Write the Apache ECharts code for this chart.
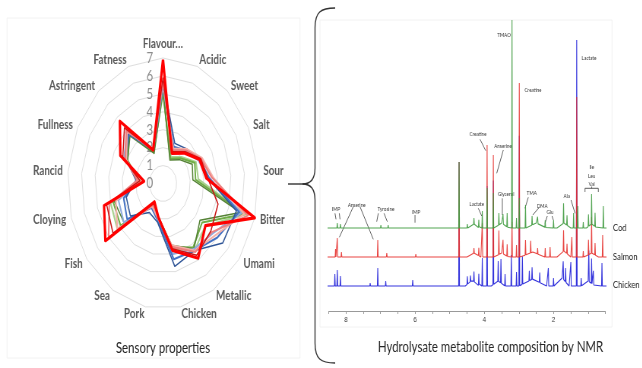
<!DOCTYPE html>
<html>
<head>
<meta charset="utf-8">
<script src="https://cdn.jsdelivr.net/npm/echarts@6/dist/echarts.min.js"></script>
<style>
  body { margin: 0; background: #fff; }
  #wrap { width: 642px; height: 368px; overflow: hidden; position: relative; }
  /* the reference figure is squeezed sideways, so draw wide and squeeze */
  #chart { width: 845px; height: 368px; transform: scaleX(0.76); transform-origin: 0 0; }
</style>
</head>
<body>
<div id="wrap"><div id="chart"></div></div>
<script>
const S = 0.76;

// sensory panel, attributes in clockwise order from the top
const attributes = ['Flavour…', 'Acidic', 'Sweet', 'Salt', 'Sour', 'Bitter', 'Umami', 'Metallic', 'Chicken',
  'Pork', 'Sea', 'Fish', 'Cloying', 'Rancid', 'Fullness', 'Astringent', 'Fatness'];
const scaleMax = 7;

const redBold    = [6.9, 1.8, 2.3, 3.0, 3.2, 7.0, 3.9, 4.9, 3.8, 1.9, 1.2, 5.3, 4.5, 1.4, 3.5, 4.7, 2.0];
const redDark    = [5.9, 1.9, 2.4, 3.1, 3.3, 4.2, 4.4, 4.7, 3.7, 1.9, 1.3, 4.6, 4.3, 1.7, 3.3, 4.2, 2.0];
const pink1      = [5.7, 2.0, 2.5, 3.1, 3.6, 6.5, 4.5, 4.5, 3.6, 1.9, 1.4, 5.0, 4.1, 1.9, 3.1, 4.0, 2.0];
const pink2      = [5.6, 2.1, 2.6, 3.2, 3.7, 6.2, 4.8, 4.4, 3.5, 2.0, 1.5, 4.2, 3.6, 1.8, 3.0, 3.9, 2.1];
const blueDark   = [5.7, 2.4, 2.6, 3.0, 3.3, 5.6, 5.5, 4.4, 4.7, 2.2, 1.9, 3.0, 2.8, 2.0, 3.0, 3.8, 2.0];
const blueMid    = [5.5, 2.2, 2.5, 3.0, 3.4, 5.8, 5.0, 4.4, 4.3, 2.1, 1.6, 3.3, 3.0, 1.9, 3.1, 3.7, 2.0];
const blueLight  = [5.4, 2.1, 2.4, 2.9, 3.3, 6.0, 4.6, 4.3, 4.0, 2.0, 1.5, 3.6, 3.4, 1.8, 3.2, 3.9, 2.0];
const greenDark  = [5.3, 1.4, 1.8, 2.4, 2.2, 5.9, 3.4, 4.3, 3.5, 1.9, 1.4, 3.6, 3.7, 1.9, 2.9, 3.6, 1.8];
const greenMid   = [5.1, 1.5, 1.9, 2.6, 2.4, 6.2, 3.6, 4.2, 3.6, 1.9, 1.3, 3.9, 3.8, 1.8, 2.9, 3.7, 1.9];
const greenLight = [5.0, 1.6, 2.0, 2.7, 2.6, 6.3, 3.9, 4.4, 3.7, 2.0, 1.4, 4.2, 4.0, 1.7, 3.0, 3.8, 1.9];

// NMR peaks: [ppm, height above own baseline, optional half width]
const codPeaks = [[8.25, 5], [8.16, 4], [7.08, 2], [6.99, 3], [6.78, 3], [5.98, 2], [4.73, 66],
  [4.49, 4], [4.30, 6], [4.16, 8], [4.06, 17], [3.92, 40], [3.74, 35], [3.58, 12], [3.46, 10], [3.34, 14],
  [3.20, 208], [3.07, 10], [2.99, 30], [2.81, 23], [2.62, 9], [2.46, 7], [2.24, 7], [2.00, 8], [1.71, 20],
  [1.61, 10], [1.42, 15], [1.30, 22], [1.14, 6], [0.99, 12], [0.90, 30], [0.80, 14], [0.56, 22],
  [4.3, 4, 0.15], [3.5, 5, 0.2], [2.5, 5, 0.3], [1.7, 5, 0.2], [0.9, 4, 0.15]];
const salmonPeaks = [[8.30, 8], [8.25, 19], [8.13, 5], [7.08, 17], [6.82, 4], [6.60, 2], [5.98, 3], [4.73, 95],
  [4.30, 5], [4.16, 8], [4.06, 34], [3.92, 112], [3.74, 102], [3.58, 24], [3.46, 14], [3.34, 12], [3.20, 35],
  [3.07, 12], [2.99, 174], [2.81, 15], [2.66, 12], [2.46, 6], [2.24, 9], [2.10, 10], [1.71, 21], [1.61, 10],
  [1.47, 20], [1.33, 160], [1.14, 6], [0.99, 15], [0.90, 36], [0.80, 12], [0.58, 22],
  [4.3, 4, 0.2], [3.5, 4, 0.2], [2.6, 5, 0.35], [1.7, 6, 0.2], [0.9, 4, 0.2]];
const chickenPeaks = [[8.32, 12], [8.25, 16], [8.16, 10], [7.50, 2], [7.30, 3], [7.08, 18], [6.85, 5], [6.07, 6],
  [4.73, 124], [4.49, 8], [4.40, 6], [4.30, 10], [4.16, 12], [4.06, 28], [3.92, 100], [3.74, 104], [3.60, 20],
  [3.52, 24], [3.40, 12], [3.22, 31], [3.07, 14], [2.99, 150], [2.90, 28], [2.70, 10], [2.62, 12], [2.40, 10],
  [2.15, 18], [2.00, 8], [1.72, 18], [1.65, 14], [1.50, 24], [1.33, 246], [1.20, 8], [0.98, 31], [0.90, 25],
  [0.85, 14], [0.60, 23],
  [4.35, 6, 0.2], [3.6, 5, 0.2], [2.6, 7, 0.4], [1.75, 8, 0.2], [1.0, 5, 0.2]];
const ppmTicks = [8, 6, 4, 2];

// echarts radar runs anticlockwise, the reference runs clockwise
const order = attributes.map((_, i) => (attributes.length - i) % attributes.length);
const reorder = arr => order.map(k => arr[k]);

function spectrum(peaks, offset) {
  const xs = [8.6, 0.42];
  peaks.forEach(p => { const w = p[2] || 0.012; xs.push(p[0] + w, p[0], p[0] - w); });
  xs.sort((a, b) => b - a);
  return xs.map(x => {
    let y = 0;
    peaks.forEach(p => {
      const w = p[2] || 0.012, d = Math.abs(x - p[0]);
      if (d < w) y += p[1] * (1 - d / w);
    });
    return [x, offset + y];
  });
}

const radarLines = [
  ['greenLight', greenLight, '#A9D18E', 2], ['greenMid', greenMid, '#70AD47', 2], ['greenDark', greenDark, '#548235', 1.5],
  ['blueLight', blueLight, '#8FAADC', 2], ['blueMid', blueMid, '#4472C4', 2], ['blueDark', blueDark, '#2F5597', 1.5],
  ['pink2', pink2, '#F4B0A8', 2], ['pink1', pink1, '#EE7F7F', 2], ['redDark', redDark, '#C81414', 1.5],
  ['redBold', redBold, '#FF0000', 3.2]
];

const X = x => x / S;
const txt = (t, x, y, o) => ({
  type: 'text', x: X(x), y: y, silent: true,
  style: Object.assign({ text: t, fill: '#333', font: '6px Lato', align: 'center', verticalAlign: 'middle',
    textAlign: 'center', textVerticalAlign: 'middle' }, o || {})
});
const seg = pts => ({
  type: 'polyline', silent: true, shape: { points: pts.map(p => [X(p[0]), p[1]]) },
  style: { stroke: '#333', lineWidth: 0.8, fill: null }
});
const brace = (shape) => ({ type: 'bezierCurve', silent: true, shape: shape, style: { stroke: '#333', lineWidth: 1.4, fill: null } });
const bline = (x1, y1, x2, y2) => ({ type: 'line', silent: true, shape: { x1, y1, x2, y2 }, style: { stroke: '#333', lineWidth: 1.4 } });
const sampleName = (t, y) => txt(t, 613, y, { font: '10px Lato', fill: '#222', align: 'left', textAlign: 'left' });

const chart = echarts.init(document.getElementById('chart'));
chart.setOption({
  animation: false,
  backgroundColor: '#fff',
  radar: {
    center: [X(163), 183.5],
    radius: 125.5,
    startAngle: 90,
    splitNumber: 7,
    shape: 'polygon',
    indicator: reorder(attributes).map((n, i) => ({ name: n, min: 0, max: scaleMax, axisLabel: { show: i === 0 } })),
    axisName: { color: '#595959', fontFamily: 'Lato', fontSize: 13, fontWeight: 'bold' },
    nameGap: 7,
    splitLine: { lineStyle: { color: '#dedede', width: 1 } },
    splitArea: { show: false },
    axisLine: { show: false },
    axisTick: { show: false },
    axisLabel: { show: false, color: '#8c8c8c', fontFamily: 'Lato', fontSize: 15, margin: 13 }
  },
  grid: { left: 432.4, right: 48.4, top: 15, bottom: 57 },
  xAxis: {
    type: 'value', inverse: true, min: 0.5, max: 8.5, interval: 0.5,
    axisLine: { lineStyle: { color: '#999' } },
    axisTick: { length: 3, lineStyle: { color: '#999' } },
    splitLine: { show: false },
    axisLabel: { fontSize: 8, color: '#333', margin: 5,
      formatter: v => ppmTicks.indexOf(v) >= 0 ? String(v) : '' }
  },
  yAxis: { type: 'value', min: 0, max: 296, show: false },
  series: radarLines.map(r => ({
    type: 'radar', name: r[0], symbol: 'none', silent: true,
    lineStyle: { color: r[2], width: r[3] },
    data: [{ value: reorder(r[1]) }]
  })).concat([
    ['Chicken', chickenPeaks, 25, '#1E1ED8'],
    ['Salmon', salmonPeaks, 54, '#E5302C'],
    ['Cod', codPeaks, 83, '#3E9A3E']
  ].map(s => ({
    type: 'line', name: s[0], showSymbol: false, clip: false, silent: true,
    lineStyle: { color: s[3], width: 1.1, opacity: 0.9 },
    data: spectrum(s[1], s[2])
  }))),
  graphic: [
    { type: 'rect', shape: { x: X(7), y: 18, width: X(300) - X(7), height: 340 }, style: { fill: null, stroke: '#f2f2f2' }, silent: true },
    { type: 'rect', shape: { x: X(320), y: 20, width: X(612) - X(320), height: 307 }, style: { fill: null, stroke: '#f2f2f2' }, silent: true },
    txt('Sensory properties', 163, 348, { font: '15px Lato', fill: '#262626' }),
    txt('Hydrolysate metabolite composition by NMR', 490.5, 346.7, { font: '15px Lato', fill: '#262626' }),
    // curly brace between the panels
    brace({ x1: 441, y1: 8, cpx1: 422, cpy1: 8, cpx2: 414.5, cpy2: 12, x2: 414.5, y2: 28 }),
    bline(414.5, 28, 414.5, 168),
    brace({ x1: 414.5, y1: 168, cpx1: 414.5, cpy1: 179, cpx2: 409, cpy2: 184, x2: 398, y2: 184 }),
    brace({ x1: 398, y1: 184, cpx1: 409, cpy1: 184, cpx2: 414.5, cpy2: 189, x2: 414.5, y2: 200 }),
    bline(414.5, 200, 414.5, 343),
    brace({ x1: 414.5, y1: 343, cpx1: 414.5, cpy1: 359, cpx2: 422, cpy2: 363, x2: 441, y2: 363 }),
    bline(379, 184, 398, 184),
    sampleName('Cod', 228), sampleName('Salmon', 257), sampleName('Chicken', 285),
    txt('TMAO', 504, 35), txt('Lactate', 589, 58), txt('Creatine', 533, 90),
    txt('Creatine', 478, 134), txt('Anserine', 503, 146),
    txt('Ile', 591.7, 166.7), txt('Leu', 591.7, 176), txt('Val', 591.7, 184.5),
    txt('Glycerol', 506, 194.5), txt('TMA', 531.7, 192.7), txt('Ala', 566.7, 196),
    txt('IMP', 336, 209.3), txt('Anserine', 356.7, 205), txt('Tyrosine', 386, 209.3), txt('IMP', 416, 212.3),
    txt('Lactate', 476.7, 204.3), txt('DMA', 542.3, 206), txt('Glu', 550, 212.3),
    seg([[480, 139.3], [485.7, 150.7]]), seg([[503.3, 150], [496.7, 173.3]]),
    seg([[335, 213.3], [336, 219.3]]), seg([[339.3, 213.3], [340, 219.3]]),
    seg([[353.3, 206.7], [339.3, 237.3]]), seg([[360, 206.7], [373.3, 239.3]]),
    seg([[378.3, 213.3], [376.7, 221.7]]), seg([[384, 213.3], [387.3, 221.7]]),
    seg([[415, 215], [415, 222.7]]), seg([[478.3, 208.3], [481.7, 216]]),
    seg([[502.3, 198.3], [502.3, 215]]), seg([[528.3, 197.3], [525, 208.3]]),
    seg([[539.3, 207.3], [532.7, 215]]), seg([[547.3, 216], [545, 223.3]]), seg([[552, 216], [553.3, 220]]),
    seg([[571, 200], [575, 213.3]]),
    seg([[585, 192], [585, 188.3], [598.3, 188.3], [598.3, 192]]), seg([[591.7, 188.3], [591.7, 186.5]])
  ]
});
</script>
</body>
</html>
